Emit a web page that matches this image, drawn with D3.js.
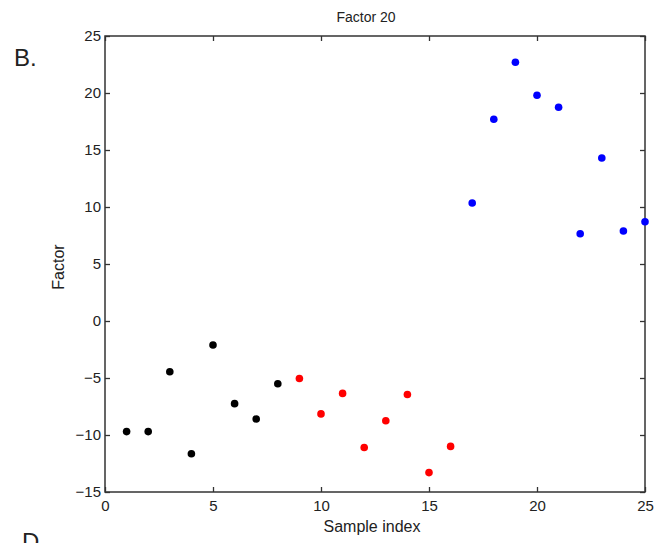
<!DOCTYPE html>
<html>
<head>
<meta charset="utf-8">
<script src="https://cdn.jsdelivr.net/npm/d3@7"></script>
<style>
  body { margin: 0; background: #fff; }
  svg text { font-family: "Liberation Sans", Arial, sans-serif; fill: #222; }
</style>
</head>
<body>
<div id="chart"></div>
<script>
const sampleIndex = d3.range(1, 26);
const factorValues = [
  -9.7, -9.7, -4.45, -11.65, -2.1, -7.25, -8.6, -5.5,
  -5.05, -8.15, -6.35, -11.1, -8.75, -6.45, -13.3, -11.0,
  10.35, 17.7, 22.7, 19.8, 18.75, 7.65, 14.3, 7.9, 8.7
];
const groups = [
  "g1", "g1", "g1", "g1", "g1", "g1", "g1", "g1",
  "g2", "g2", "g2", "g2", "g2", "g2", "g2", "g2",
  "g3", "g3", "g3", "g3", "g3", "g3", "g3", "g3", "g3"
];
const groupColors = { g1: "#000000", g2: "#ff0000", g3: "#0000ff" };
const xTicks = [0, 5, 10, 15, 20, 25];
const yTicks = [-15, -10, -5, 0, 5, 10, 15, 20, 25];

const width = 672, height = 543;
const margin = { top: 36, right: 27, bottom: 51, left: 105 };

const svg = d3.select("#chart").append("svg")
  .attr("width", width)
  .attr("height", height);

const x = d3.scaleLinear().domain([0, 25]).range([margin.left, width - margin.right]);
const y = d3.scaleLinear().domain([-15, 25]).range([height - margin.bottom, margin.top]);

const axisColor = "#333";

function styleAxis(g, showLabels) {
  g.select(".domain").remove();
  g.selectAll(".tick line").attr("stroke", axisColor).attr("stroke-width", 1.3);
  g.selectAll(".tick text").attr("font-size", 15).attr("fill", "#222");
  if (!showLabels) g.selectAll(".tick text").remove();
}

// bottom
svg.append("g")
  .attr("transform", `translate(0,${y(-15)})`)
  .call(d3.axisBottom(x).tickValues(xTicks).tickSize(-5).tickPadding(8).tickFormat(d3.format("d")))
  .call(g => styleAxis(g, true));

// top
svg.append("g")
  .attr("transform", `translate(0,${y(25)})`)
  .call(d3.axisTop(x).tickValues(xTicks).tickSize(-5))
  .call(g => styleAxis(g, false));

// left
svg.append("g")
  .attr("transform", `translate(${x(0)},0)`)
  .call(d3.axisLeft(y).tickValues(yTicks).tickSize(-5).tickPadding(4).tickFormat(d3.format("d")))
  .call(g => styleAxis(g, true));

// right
svg.append("g")
  .attr("transform", `translate(${x(25)},0)`)
  .call(d3.axisRight(y).tickValues(yTicks).tickSize(-5))
  .call(g => styleAxis(g, false));

// box
svg.append("rect")
  .attr("x", x(0)).attr("y", y(25))
  .attr("width", x(25) - x(0)).attr("height", y(-15) - y(25))
  .attr("fill", "none").attr("stroke", axisColor).attr("stroke-width", 1.5);

// points
svg.append("g").selectAll("circle")
  .data(sampleIndex)
  .join("circle")
  .attr("cx", (d) => x(d))
  .attr("cy", (d, i) => y(factorValues[i]))
  .attr("r", 3.8)
  .attr("fill", (d, i) => groupColors[groups[i]]);

// labels
svg.append("text")
  .attr("x", 366).attr("y", 22)
  .attr("text-anchor", "middle").attr("font-size", 14)
  .text("Factor 20");

svg.append("text")
  .attr("x", 372).attr("y", 532)
  .attr("text-anchor", "middle").attr("font-size", 16)
  .text("Sample index");

svg.append("text")
  .attr("transform", `translate(64,267) rotate(-90)`)
  .attr("text-anchor", "middle").attr("font-size", 16)
  .text("Factor");

svg.append("text")
  .attr("x", 14).attr("y", 66)
  .attr("font-size", 24)
  .text("B.");

svg.append("text")
  .attr("x", 22).attr("y", 550)
  .attr("font-size", 24)
  .text("D");
</script>
</body>
</html>
